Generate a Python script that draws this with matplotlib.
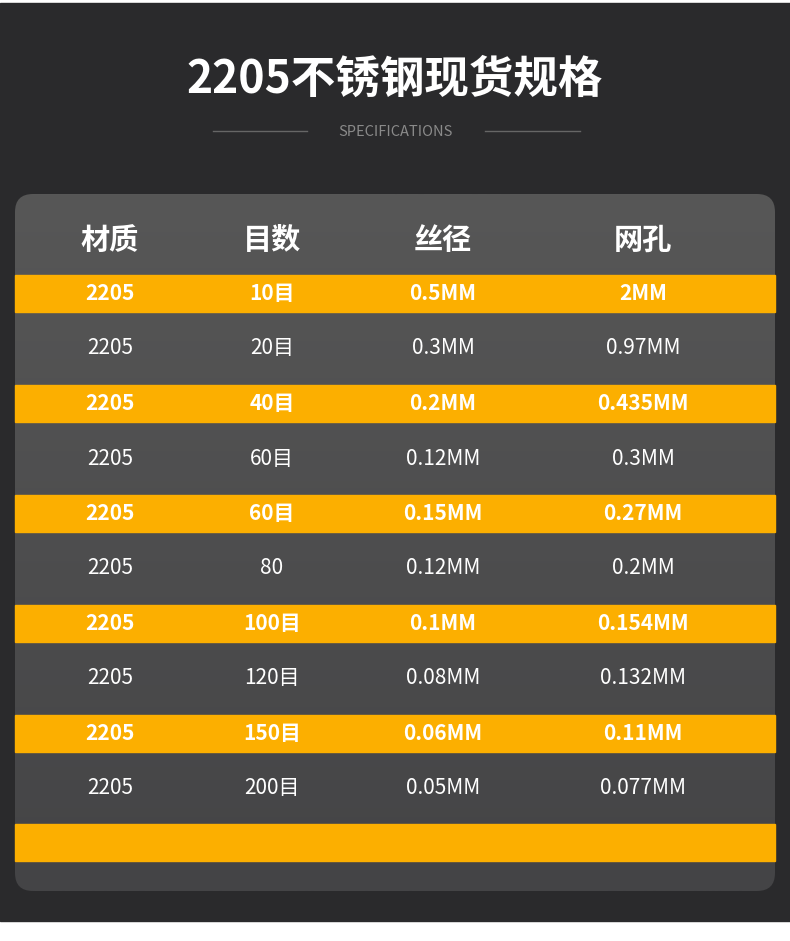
import matplotlib
matplotlib.use("Agg")
import matplotlib.pyplot as plt
import numpy as np
from matplotlib.patches import FancyBboxPatch, Rectangle

plt.rcParams['font.family'] = ['Noto Sans CJK SC', 'DejaVu Sans']

title = "2205不锈钢现货规格"
subtitle = "SPECIFICATIONS"
headers = ["材质", "目数", "丝径", "网孔"]
material = ["2205"] * 10
mesh = ["10目", "20目", "40目", "60目", "60目", "80", "100目", "120目", "150目", "200目"]
wire = ["0.5MM", "0.3MM", "0.2MM", "0.12MM", "0.15MM", "0.12MM", "0.1MM", "0.08MM", "0.06MM", "0.05MM"]
hole = ["2MM", "0.97MM", "0.435MM", "0.3MM", "0.27MM", "0.2MM", "0.154MM", "0.132MM", "0.11MM", "0.077MM"]

W, H = 790, 941
fig = plt.figure(figsize=(W/100, H/100), dpi=100)
ax = fig.add_axes([0, 0, 1, 1])
ax.set_xlim(0, W); ax.set_ylim(H, 0); ax.axis('off')
fig.patch.set_facecolor('white')

ax.add_patch(Rectangle((0, 3), W, 918, color='#2a2a2c', zorder=0))
ax.text(W/2, 80, title, color='white', fontsize=32, fontweight='bold', ha='center', va='center')
ax.text(W/2, 132, subtitle, color='#8a8a8a', fontsize=10.5, ha='center', va='center')
ax.plot([213, 307], [131, 131], color='#666', lw=1)
ax.plot([485, 580], [131, 131], color='#666', lw=1)

# panel with gradient
panel = FancyBboxPatch((15, 194), 760, 697, boxstyle="round,pad=0,rounding_size=18",
                       facecolor='none', edgecolor='none', zorder=1)
ax.add_patch(panel)
grad = np.linspace(0, 1, 256).reshape(-1, 1)
from matplotlib.colors import LinearSegmentedColormap
cmap = LinearSegmentedColormap.from_list('g', ['#575757', '#444446'])
im = ax.imshow(grad, cmap=cmap, extent=(15, 775, 891, 194), aspect='auto', zorder=1)
im.set_clip_path(panel)

cols = [110, 272, 443, 643]
for x, h in zip(cols, headers):
    ax.text(x, 240, h, color='white', fontsize=21, fontweight='bold', ha='center', va='center', zorder=3)

orange = '#fcaf00'
y = 275
for i in range(len(mesh)):
    hgt = 37 if i % 2 == 0 else 73
    if i % 2 == 0:
        ax.add_patch(Rectangle((15, y), 760, hgt, color=orange, zorder=2))
    yc = y + hgt/2
    for x, v in zip(cols, [material[i], mesh[i], wire[i], hole[i]]):
        ax.text(x, yc, v, color='white', fontsize=15, fontweight='bold' if i % 2 == 0 else 'medium',
                ha='center', va='center', zorder=3)
    y += hgt
ax.add_patch(Rectangle((15, 824), 760, 37, color=orange, zorder=2))

fig.savefig('out.png', dpi=100)
